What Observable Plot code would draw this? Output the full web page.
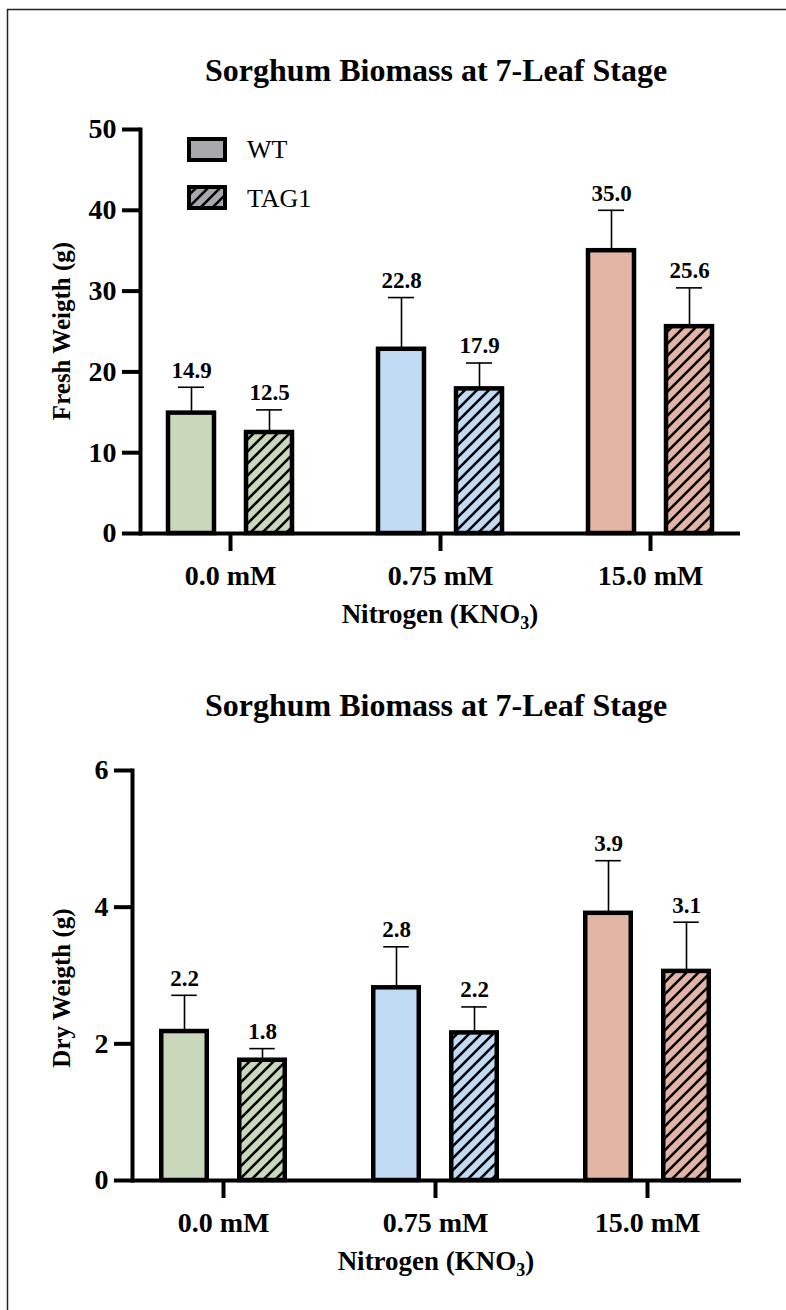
<!DOCTYPE html>
<html><head><meta charset="utf-8">
<script src="https://cdn.jsdelivr.net/npm/d3@7"></script>
<script src="https://cdn.jsdelivr.net/npm/@observablehq/plot@0.6"></script>
<style>
html,body{margin:0;padding:0;background:#fff;}
#page{position:relative;width:786px;height:1310px;overflow:hidden;font-family:"Liberation Serif","Times New Roman",serif;background:#fff;}
#page > *{position:absolute;left:0;}
</style></head><body><div id="page"></div>
<script>
// ---- data ----
const categories = ["0.0 mM", "0.75 mM", "15.0 mM"];
const genotypes = ["WT", "TAG1"];
const freshWT = [14.9, 22.8, 35.0];
const freshTAG1 = [12.5, 17.9, 25.6];
const freshWTsd = [3.2, 6.4, 5.0];
const freshTAG1sd = [2.8, 3.2, 4.8];
const dryWT = [2.18, 2.82, 3.91];
const dryTAG1 = [1.76, 2.16, 3.06];
const dryWTsd = [0.53, 0.6, 0.77];
const dryTAG1sd = [0.17, 0.38, 0.72];
const freshTicks = [0, 10, 20, 30, 40, 50];
const dryTicks = [0, 2, 4, 6];
const groupColors = ["#c9d7ba", "#c1dbf5", "#e3b5a5"];
const legendColor = "#a8a8ab";

const page = document.getElementById("page");
const FONT = '"Liberation Serif","Times New Roman",serif';

function drawChart(cfg) {
  const rows = categories.flatMap((c, i) => [
    {cat: c, geno: genotypes[0], value: cfg.wt[i], sd: cfg.wtSd[i], ci: i},
    {cat: c, geno: genotypes[1], value: cfg.tag[i], sd: cfg.tagSd[i], ci: i}
  ]);
  const bw = (cfg.xRange[1] - cfg.xRange[0]) / categories.length;
  const barW = 46, capW = 26, off = 39;
  const barInset = (bw - barW) / 2, capInset = (bw - capW) / 2;
  const marks = [];
  for (const [g, dx] of [[genotypes[0], -off], [genotypes[1], off]]) {
    const data = rows.filter(d => d.geno === g);
    marks.push(
      Plot.ruleX(data, {x: "cat", y1: "value", y2: d => d.value + d.sd, dx, stroke: "#000", strokeWidth: 1.6}),
      Plot.tickY(data, {x: "cat", y: d => d.value + d.sd, dx, insetLeft: capInset, insetRight: capInset, stroke: "#000", strokeWidth: 1.6}),
      Plot.barY(data, {x: "cat", y: "value", dx, insetLeft: barInset, insetRight: barInset,
        fill: d => g === "WT" ? groupColors[d.ci] : `url(#hatch${d.ci})`, stroke: "#000", strokeWidth: 4.5}),
      Plot.text(data, {x: "cat", y: d => d.value + d.sd, text: d => d.value.toFixed(1), dx, dy: -17,
        fontSize: 23, fontWeight: "bold", fill: "#000"})
    );
  }
  marks.push(
    Plot.axisY(cfg.yTicks, {tickSize: 18, tickPadding: 6, strokeWidth: 4, fontSize: 28, fontWeight: "bold", label: null, tickFormat: d => String(d)}),
    Plot.axisX(categories, {tickSize: 18, tickPadding: 14, strokeWidth: 4, fontSize: 28, fontWeight: "bold", label: null}),
    Plot.ruleY([0], {stroke: "#000", strokeWidth: 4}),
    Plot.frame({anchor: "left", stroke: "#000", strokeWidth: 4})
  );
  const svg = Plot.plot({
    width: 786, height: cfg.height,
    marginTop: cfg.marginTop, marginBottom: cfg.marginBottom,
    marginLeft: cfg.marginLeft, marginRight: cfg.marginRight,
    style: {fontFamily: FONT, background: "transparent", overflow: "visible", color: "#000"},
    x: {type: "band", domain: categories, range: cfg.xRange, padding: 0},
    y: {domain: cfg.yDomain},
    color: {type: "identity"},
    marks
  });
  svg.style.top = cfg.top + "px";
  page.appendChild(svg);
}

drawChart({top: 0, height: 660, marginTop: 129, marginBottom: 127, marginLeft: 140, marginRight: 46,
  xRange: [125, 755], yDomain: [0, 50], yTicks: freshTicks,
  wt: freshWT, tag: freshTAG1, wtSd: freshWTsd, tagSd: freshTAG1sd});
drawChart({top: 660, height: 650, marginTop: 110, marginBottom: 130, marginLeft: 132, marginRight: 45,
  xRange: [116.5, 754], yDomain: [0, 6], yTicks: dryTicks,
  wt: dryWT, tag: dryTAG1, wtSd: dryWTsd, tagSd: dryTAG1sd});

// ---- overlay: patterns, border, titles, labels, legend ----
const NS = "http://www.w3.org/2000/svg";
const ov = document.createElementNS(NS, "svg");
ov.setAttribute("width", 786); ov.setAttribute("height", 1310);
ov.style.top = "0px";
ov.style.pointerEvents = "none";
ov.setAttribute("font-family", FONT);
const patFills = [...groupColors, legendColor];
let defs = "<defs>";
patFills.forEach((c, i) => {
  const id = i < 3 ? `hatch${i}` : "hatchLegend";
  defs += `<pattern id="${id}" patternUnits="userSpaceOnUse" width="12" height="12">
    <rect width="12" height="12" fill="${c}"/>
    <path d="M-3,3 L3,-3 M0,12 L12,0 M9,15 L15,9" stroke="#000" stroke-width="2.6"/></pattern>`;
});
defs += "</defs>";
ov.innerHTML = defs + `
  <rect x="7.5" y="9.5" width="800" height="1320" fill="none" stroke="#222" stroke-width="1.5"/>
  <text x="436" y="81" text-anchor="middle" font-size="32" font-weight="bold">Sorghum Biomass at 7-Leaf Stage</text>
  <text x="436" y="716" text-anchor="middle" font-size="32" font-weight="bold">Sorghum Biomass at 7-Leaf Stage</text>
  <rect x="189" y="139" width="36" height="21" fill="${legendColor}" stroke="#000" stroke-width="4"/>
  <text x="247" y="158" font-size="26">${genotypes[0]}</text>
  <rect x="189" y="187" width="36" height="21" fill="url(#hatchLegend)" stroke="#000" stroke-width="4"/>
  <text x="247" y="207" font-size="26">${genotypes[1]}</text>
  <text x="440" y="623" text-anchor="middle" font-size="27" font-weight="bold">Nitrogen (KNO<tspan font-size="18" dy="6">3</tspan><tspan dy="-6">)</tspan></text>
  <text x="436" y="1270" text-anchor="middle" font-size="27" font-weight="bold">Nitrogen (KNO<tspan font-size="18" dy="6">3</tspan><tspan dy="-6">)</tspan></text>
  <text transform="translate(70,331) rotate(-90)" text-anchor="middle" font-size="25" font-weight="bold">Fresh Weigth (g)</text>
  <text transform="translate(70,988) rotate(-90)" text-anchor="middle" font-size="25" font-weight="bold">Dry Weigth (g)</text>
`;
page.appendChild(ov);
</script></body></html>
